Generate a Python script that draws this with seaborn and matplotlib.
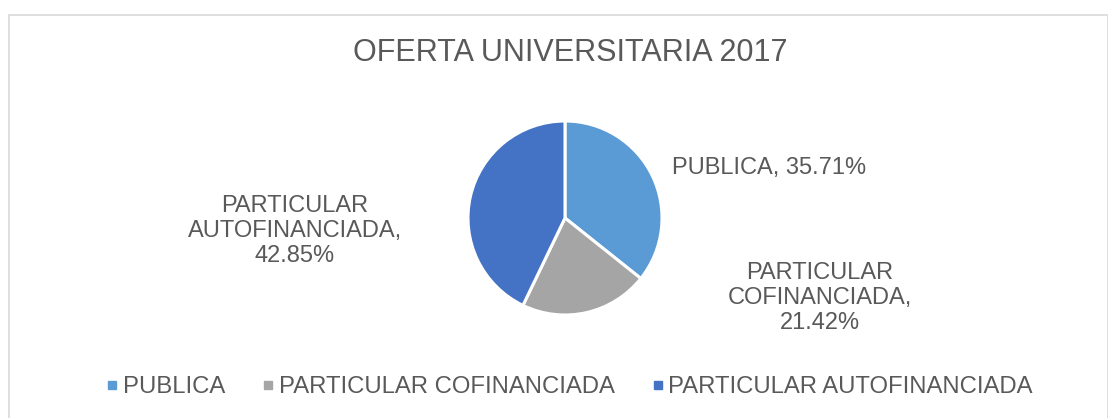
import matplotlib
matplotlib.use("Agg")
import matplotlib.pyplot as plt
import seaborn as sns
from matplotlib.lines import Line2D
from matplotlib.patches import Rectangle

# data
categories = ["PUBLICA", "PARTICULAR COFINANCIADA", "PARTICULAR AUTOFINANCIADA"]
shares = [35.71, 21.42, 42.85]
slice_labels = ["PUBLICA, 35.71%",
                "PARTICULAR\nCOFINANCIADA,\n21.42%",
                "PARTICULAR\nAUTOFINANCIADA,\n42.85%"]
colors = ["#5B9BD5", "#A5A5A5", "#4472C4"]
title = "OFERTA UNIVERSITARIA 2017"

sns.set_theme(style="white")
plt.rcParams['font.family'] = ['Liberation Sans', 'DejaVu Sans']
TXT = "#595959"

W, H = 1108, 418
fig = plt.figure(figsize=(W / 100, H / 100), dpi=100)
fig.patch.set_facecolor("white")

def fx(px): return px / W
def fy(py): return 1 - py / H

# chart border (runs off right/bottom edge)
fig.patches.append(Rectangle((fx(8.5), fy(440)), fx(1107.5) - fx(8.5), fy(14.5) - fy(440),
                             transform=fig.transFigure, fill=False,
                             edgecolor="#D9D9D9", linewidth=1.2))

# pie
cx, cy, r = 565, 218, 97
ax = fig.add_axes([fx(cx - r), fy(cy + r), 2 * r / W, 2 * r / H])
ax.pie(shares, colors=colors, startangle=90, counterclock=False,
       wedgeprops=dict(edgecolor="white", linewidth=2.2))
ax.set_xlim(-1.0, 1.0); ax.set_ylim(-1.0, 1.0)
ax.set_aspect('equal'); ax.axis('off')

fig.text(fx(570), fy(53), title, ha='center', va='center', fontsize=22, color=TXT)

# data labels
fig.text(fx(672), fy(168), slice_labels[0], ha='left', va='center', fontsize=17, color=TXT)
fig.text(fx(820), fy(298), slice_labels[1], ha='center', va='center', fontsize=17,
         color=TXT, linespacing=1.2, multialignment='center')
fig.text(fx(295), fy(231), slice_labels[2], ha='center', va='center', fontsize=17,
         color=TXT, linespacing=1.2, multialignment='center')

handles = [Line2D([], [], marker='s', linestyle='none', markersize=6, color=c) for c in colors]
leg = fig.legend(handles, categories, loc='center', bbox_to_anchor=(fx(570), fy(387)),
                 ncol=3, frameon=False, fontsize=17.2, handlelength=0.4,
                 handletextpad=0.25, columnspacing=1.6, borderaxespad=0)
for t in leg.get_texts():
    t.set_color(TXT)

fig.savefig("out.png", dpi=100)
